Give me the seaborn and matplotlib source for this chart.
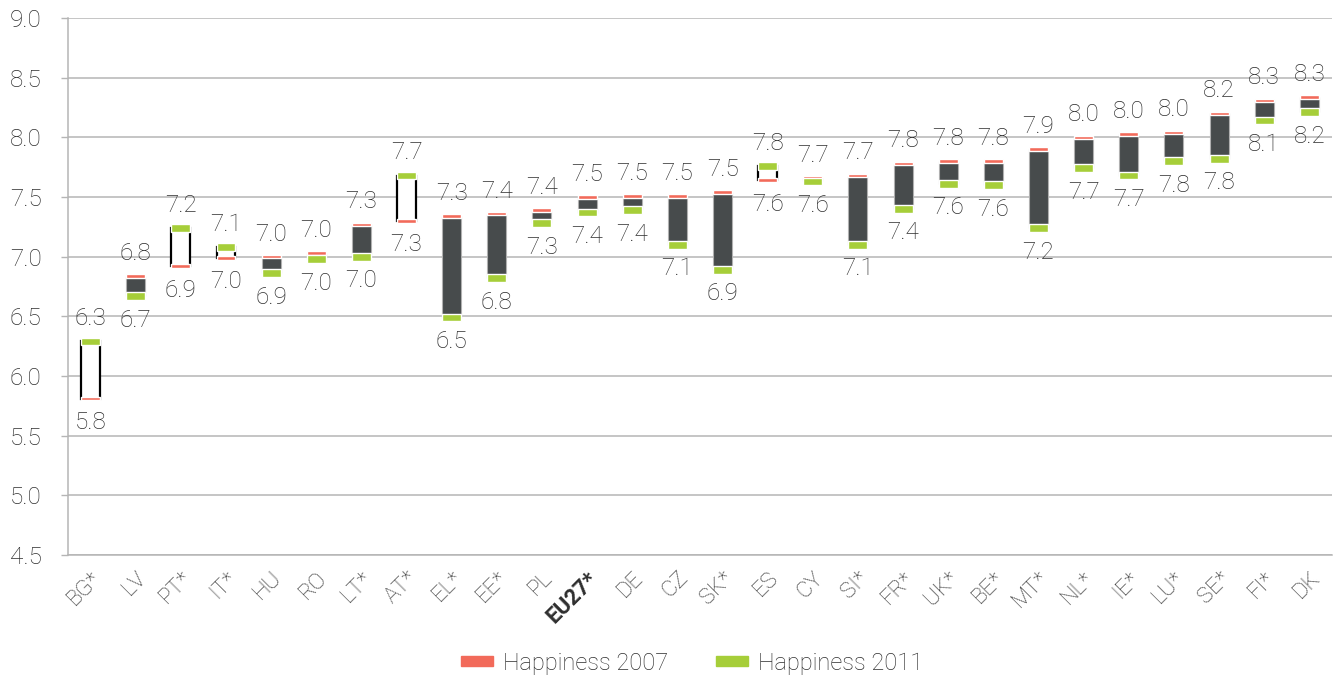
import numpy as np
import pandas as pd
import matplotlib
matplotlib.use("Agg")
import matplotlib.pyplot as plt
from matplotlib.patches import Patch
from matplotlib.transforms import ScaledTranslation
import seaborn as sns

# Happiness by country, 2007 vs 2011
countries = ["BG*", "LV", "PT*", "IT*", "HU", "RO", "LT*", "AT*", "EL*", "EE*",
             "PL", "EU27*", "DE", "CZ", "SK*", "ES", "CY", "SI*", "FR*", "UK*",
             "BE*", "MT*", "NL*", "IE*", "LU*", "SE*", "FI*", "DK"]
happy_2007 = [5.81, 6.84, 6.92, 6.99, 7.00, 7.03, 7.27, 7.30, 7.34, 7.36,
              7.39, 7.50, 7.51, 7.51, 7.54, 7.64, 7.66, 7.68, 7.78, 7.80,
              7.80, 7.90, 8.00, 8.03, 8.04, 8.20, 8.31, 8.34]
happy_2011 = [6.29, 6.67, 7.24, 7.08, 6.86, 6.98, 7.00, 7.68, 6.49, 6.82,
              7.28, 7.37, 7.39, 7.10, 6.89, 7.76, 7.63, 7.10, 7.40, 7.61,
              7.60, 7.24, 7.74, 7.68, 7.80, 7.82, 8.14, 8.21]
y_ticks = [4.5, 5.0, 5.5, 6.0, 6.5, 7.0, 7.5, 8.0, 8.5, 9.0]

RED = "#F26A5A"
GREEN = "#A6CE39"
DARK = "#474B4C"
GRID = "#B5B5B5"
TEXT = "#2E2E2E"

df = pd.DataFrame({"country": countries, "y2007": happy_2007, "y2011": happy_2011})
df["low"] = df[["y2007", "y2011"]].min(axis=1)
df["span"] = (df["y2007"] - df["y2011"]).abs()
df["rise"] = df["y2011"] > df["y2007"]

sns.set_theme(style="white")
plt.rcParams["font.family"] = ["Roboto", "DejaVu Sans"]

fig, ax = plt.subplots(figsize=(13.44, 6.81), dpi=100)
fig.subplots_adjust(left=0.0506, right=0.991, top=0.9736, bottom=0.185)

for y in y_ticks:
    ax.axhline(y, color=GRID, lw=1.1, zorder=0)

# floating bodies
bw = 0.42
sns.barplot(data=df, x="country", y="span", bottom=df["low"], order=countries,
            color=DARK, width=bw, saturation=1, ax=ax, zorder=2)
for patch, rise in zip(ax.patches, df["rise"]):
    if rise:
        patch.set_facecolor("white")
        patch.set_edgecolor("black")
        patch.set_linewidth(1.6)
    else:
        patch.set_edgecolor("#B0B0B0")
        patch.set_linewidth(0.8)

# year markers
red_h, green_h = 0.03, 0.065
sns.barplot(data=df, x="country", y=np.full(len(df), red_h),
            bottom=df["y2007"] - red_h / 2, order=countries, color=RED,
            width=bw, saturation=1, ax=ax, zorder=3)
sns.barplot(data=df, x="country", y=np.full(len(df), green_h),
            bottom=df["y2011"] - green_h / 2, order=countries, color=GREEN,
            width=bw, saturation=1, ax=ax, zorder=4)

# value labels
fs = 17.5
for i, row in df.iterrows():
    hi = max(row["y2007"], row["y2011"])
    lo = min(row["y2007"], row["y2011"])
    ax.annotate(f"{hi:.1f}", (i, hi), xytext=(0, 8), textcoords="offset points",
                ha="center", va="bottom", fontsize=fs, color=TEXT, fontweight="light")
    ax.annotate(f"{lo:.1f}", (i, lo), xytext=(0, -9), textcoords="offset points",
                ha="center", va="top", fontsize=fs, color=TEXT, fontweight="light")

ax.set_xlim(-0.5, len(countries) - 0.5)
ax.set_ylim(4.5, 9.0)
ax.set_yticks(y_ticks)
ax.set_yticklabels([f"{v:.1f}" for v in y_ticks], fontsize=fs, color=TEXT, fontweight="light")
ax.set_xticks(range(len(countries)))
ax.set_xticklabels(countries, rotation=45, ha="right", va="top", rotation_mode="anchor",
                   fontsize=16, color=TEXT, fontweight="light")
shift = ScaledTranslation(5 / 72, 0, fig.dpi_scale_trans)
for lab in ax.get_xticklabels():
    lab.set_transform(lab.get_transform() + shift)
    if lab.get_text() == "EU27*":
        lab.set_fontweight("bold")
ax.set_xticks(np.arange(-0.5, len(countries)), minor=True)
ax.tick_params(axis="x", which="major", length=0, pad=9)
ax.tick_params(axis="x", which="minor", length=5, color=GRID, width=1)
ax.tick_params(axis="y", length=5, color=GRID, width=1, left=True, pad=14)
ax.set_xlabel("")
ax.set_ylabel("")
for side in ["top", "right"]:
    ax.spines[side].set_visible(False)
for side in ["left", "bottom"]:
    ax.spines[side].set_color(GRID)
    ax.spines[side].set_linewidth(1.1)

handles = [Patch(color=RED, label="Happiness 2007"), Patch(color=GREEN, label="Happiness 2011")]
leg = fig.legend(handles=handles, loc="center", bbox_to_anchor=(0.515, 0.026), ncol=2,
                 frameon=False, fontsize=17, handlelength=1.36, handleheight=0.3,
                 columnspacing=2.0, handletextpad=0.45)
for t in leg.get_texts():
    t.set_color(TEXT)
    t.set_fontweight("light")

fig.savefig("out.png", dpi=100)
